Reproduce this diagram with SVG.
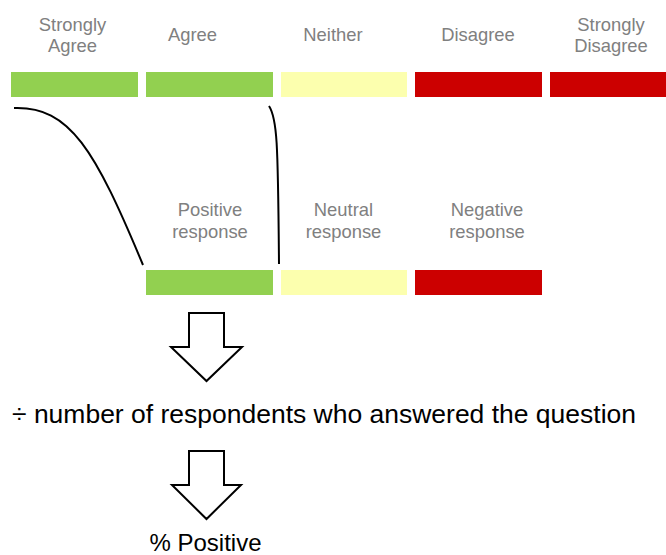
<svg xmlns="http://www.w3.org/2000/svg" width="666" height="555" viewBox="0 0 666 555">
<style>
.lbl{font-family:"Liberation Sans",Arial,sans-serif;font-size:18.4px;fill:#808080;text-anchor:middle}
.main{font-family:"Liberation Sans",Arial,sans-serif;fill:#000}
.g{fill:#92D050}.y{fill:#FCFFAE}.r{fill:#CC0000}
.conn{fill:none;stroke:#000;stroke-width:2}
.arrow{fill:#fff;stroke:#000;stroke-width:2}
</style>
<rect width="666" height="555" fill="#fff"/>
<g id="scale-labels">
<text class="lbl" x="72.5" y="30.5">Strongly</text>
<text class="lbl" x="72.5" y="52">Agree</text>
<text class="lbl" x="192.5" y="41">Agree</text>
<text class="lbl" x="333" y="41">Neither</text>
<text class="lbl" x="478" y="41">Disagree</text>
<text class="lbl" x="611" y="30.5">Strongly</text>
<text class="lbl" x="611" y="52">Disagree</text>
</g>
<g id="scale-bars">
<rect class="g" x="11" y="72" width="127" height="25"/>
<rect class="g" x="146" y="72" width="127" height="25"/>
<rect class="y" x="281" y="72" width="126" height="25"/>
<rect class="r" x="415" y="72" width="127" height="25"/>
<rect class="r" x="550" y="72" width="127" height="25"/>
</g>
<g id="connectors">
<path class="conn" d="M14,108 C70,106 95,150 143,265"/>
<path class="conn" d="M269,106 C277,118 278,140 279,264"/>
</g>
<g id="response-labels">
<text class="lbl" x="210" y="216">Positive</text>
<text class="lbl" x="210" y="238">response</text>
<text class="lbl" x="343.5" y="216">Neutral</text>
<text class="lbl" x="343.5" y="238">response</text>
<text class="lbl" x="487" y="216">Negative</text>
<text class="lbl" x="487" y="238">response</text>
</g>
<g id="response-bars">
<rect class="g" x="146" y="270" width="127" height="25"/>
<rect class="y" x="281" y="270" width="126" height="25"/>
<rect class="r" x="415" y="270" width="127" height="25"/>
</g>
<g id="arrow1">
<polygon class="arrow" points="189,313 224,313 224,347 242,347 206.5,381 171,347 189,347"/>
</g>
<g id="divide-text">
<text class="main" x="12" y="423" font-size="26" textLength="624" lengthAdjust="spacingAndGlyphs">÷ number of respondents who answered the question</text>
</g>
<g id="arrow2">
<polygon class="arrow" points="189,451 224,451 224,485 241,485 206.5,519 172,485 189,485"/>
</g>
<g id="result">
<text class="main" x="205.5" y="551" font-size="24" text-anchor="middle">% Positive</text>
</g>
</svg>
